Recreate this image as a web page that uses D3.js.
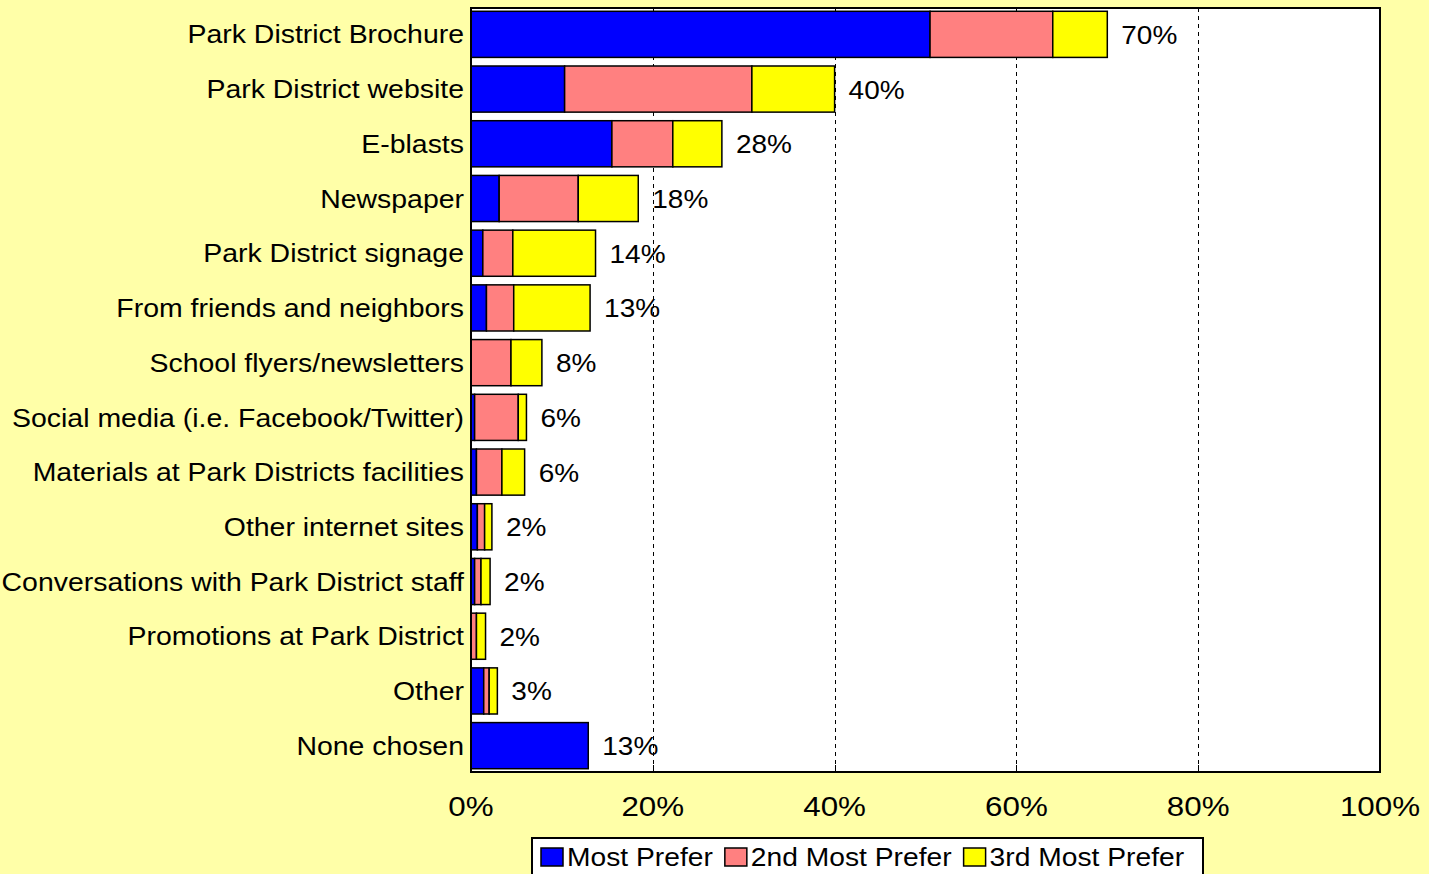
<!DOCTYPE html>
<html>
<head>
<meta charset="utf-8">
<script src="https://cdn.jsdelivr.net/npm/d3@7"></script>
<style>
  html, body { margin: 0; padding: 0; background: #FFFFA8; }
  svg { display: block; }
  text { font-family: "Liberation Sans", Arial, sans-serif; fill: #000; }
</style>
</head>
<body>
<svg id="chart" width="1429" height="874"></svg>
<script>
// Information sources, share of respondents (%) by preference rank
const categories = [
  "Park District Brochure",
  "Park District website",
  "E-blasts",
  "Newspaper",
  "Park District signage",
  "From friends and neighbors",
  "School flyers/newsletters",
  "Social media (i.e. Facebook/Twitter)",
  "Materials at Park Districts facilities",
  "Other internet sites",
  "Conversations with Park District staff",
  "Promotions at Park District",
  "Other",
  "None chosen"
];
const mostPrefer   = [50.5, 10.3, 15.5, 3.1, 1.3, 1.7, 0.0, 0.4, 0.6, 0.7, 0.4, 0.0, 1.4, 12.9];
const secondPrefer = [13.5, 20.6,  6.7, 8.7, 3.3, 3.0, 4.4, 4.8, 2.8, 0.8, 0.7, 0.6, 0.6, 0.0];
const thirdPrefer  = [ 6.0,  9.1,  5.4, 6.6, 9.1, 8.4, 3.4, 0.9, 2.5, 0.8, 1.0, 1.0, 0.9, 0.0];

const seriesNames = ["Most Prefer", "2nd Most Prefer", "3rd Most Prefer"];
const seriesColors = ["#0000FF", "#FF8080", "#FFFF00"];
const xTicks = [0, 20, 40, 60, 80, 100];
const gridTicks = [20, 40, 60, 80];

const textStretch = 1.12;

const svg = d3.select("#chart");
const W = 1429, H = 874;
const plot = { left: 471, right: 1380, top: 8, bottom: 772 };

svg.append("rect").attr("width", W).attr("height", H).attr("fill", "#FFFFA8");

const keys = ["most", "second", "third"];
const table = categories.map((c, i) => ({
  category: c,
  most: mostPrefer[i],
  second: secondPrefer[i],
  third: thirdPrefer[i]
}));
const totals = table.map(d => d.most + d.second + d.third);

const x = d3.scaleLinear().domain([0, 100]).range([plot.left, plot.right]);
const y = d3.scaleBand()
  .domain(categories)
  .range([plot.top, plot.bottom])
  .paddingInner(0.157)
  .paddingOuter(0.06);

// plot area
svg.append("rect")
  .attr("x", plot.left).attr("y", plot.top)
  .attr("width", plot.right - plot.left).attr("height", plot.bottom - plot.top)
  .attr("fill", "#FFFFFF");

// dashed gridlines
svg.append("g").selectAll("line").data(gridTicks).join("line")
  .attr("x1", d => Math.round(x(d)) + 0.5).attr("x2", d => Math.round(x(d)) + 0.5)
  .attr("y1", plot.top).attr("y2", plot.bottom)
  .attr("stroke", "#000").attr("stroke-width", 1)
  .attr("stroke-dasharray", "4,4");

// inner tick marks on the bottom axis
svg.append("g").selectAll("line").data(gridTicks).join("line")
  .attr("x1", d => Math.round(x(d)) + 0.5).attr("x2", d => Math.round(x(d)) + 0.5)
  .attr("y1", plot.bottom - 7).attr("y2", plot.bottom)
  .attr("stroke", "#000").attr("stroke-width", 1);

// stacked bars
const stacked = d3.stack().keys(keys)(table);
svg.append("g").selectAll("g").data(stacked).join("g")
  .attr("fill", (d, i) => seriesColors[i])
  .selectAll("rect").data(d => d.filter(s => s[1] - s[0] > 0)).join("rect")
  .attr("x", d => x(d[0]))
  .attr("y", d => y(d.data.category))
  .attr("width", d => x(d[1]) - x(d[0]))
  .attr("height", y.bandwidth())
  .attr("stroke", "#000")
  .attr("stroke-width", 1.5);

// plot frame
svg.append("rect")
  .attr("x", plot.left).attr("y", plot.top)
  .attr("width", plot.right - plot.left).attr("height", plot.bottom - plot.top)
  .attr("fill", "none").attr("stroke", "#000").attr("stroke-width", 2);

function stretchedText(sel, px, py) {
  return sel.attr("transform", (d, i) => `translate(${px(d, i)},${py(d, i)}) scale(${textStretch},1)`);
}

// category labels
stretchedText(
  svg.append("g").selectAll("text").data(categories).join("text"),
  () => 464,
  d => y(d) + y.bandwidth() / 2
)
  .attr("text-anchor", "end")
  .attr("dy", "0.36em")
  .attr("font-size", 25.4)
  .text(d => d);

// total value labels
stretchedText(
  svg.append("g").selectAll("text").data(totals).join("text"),
  d => x(d) + 14,
  (d, i) => y(categories[i]) + y.bandwidth() / 2
)
  .attr("dy", "0.38em")
  .attr("font-size", 25)
  .text(d => Math.round(d) + "%");

// x tick labels
stretchedText(
  svg.append("g").selectAll("text").data(xTicks).join("text"),
  d => x(d),
  () => 816
)
  .attr("text-anchor", "middle")
  .attr("font-size", 28)
  .text(d => d + "%");

// legend
const legend = svg.append("g");
legend.append("rect")
  .attr("x", 532).attr("y", 838).attr("width", 671).attr("height", 60)
  .attr("fill", "#FFFFFF").attr("stroke", "#000").attr("stroke-width", 2);

let lx = 541;
seriesNames.forEach((name, i) => {
  legend.append("rect")
    .attr("x", lx).attr("y", 848).attr("width", 22).attr("height", 18)
    .attr("fill", seriesColors[i]).attr("stroke", "#000").attr("stroke-width", 1.5);
  const t = legend.append("text")
    .attr("transform", `translate(${lx + 26},866) scale(${textStretch},1)`)
    .attr("font-size", 25.2)
    .text(name);
  lx += 26 + t.node().getComputedTextLength() * textStretch + 12;
});
</script>
</body>
</html>
